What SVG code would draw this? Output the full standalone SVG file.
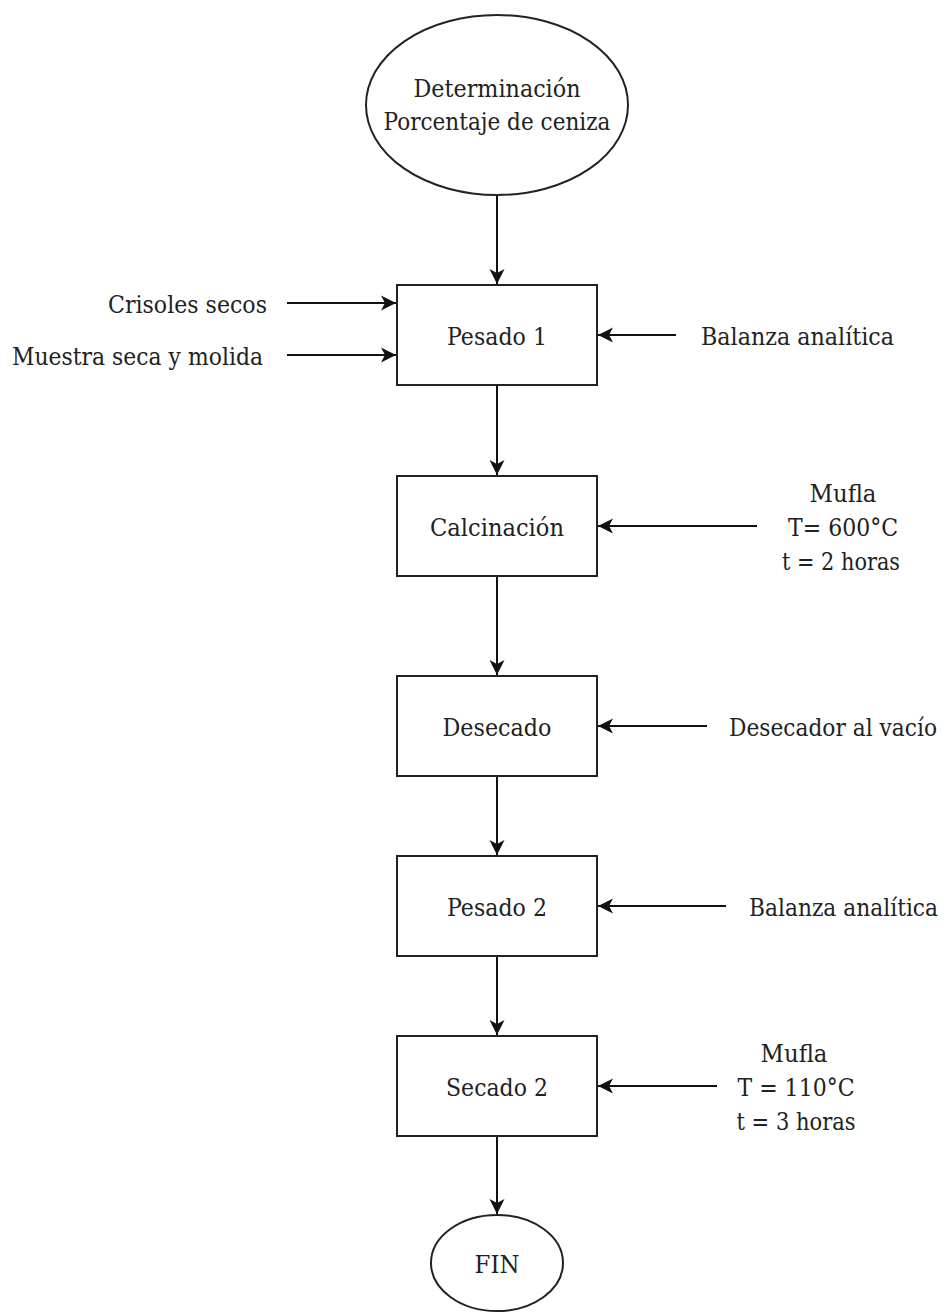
<svg xmlns="http://www.w3.org/2000/svg" width="947" height="1313" viewBox="0 0 947 1313">
  <style>
    .shape { fill: #ffffff; stroke: #222222; stroke-width: 2; }
    .edge { fill: none; stroke: #111111; stroke-width: 2; marker-end: url(#arrow); }
    .lbl { font-family: 'DejaVu Serif', serif; font-size: 25px; fill: #222222; }
    .c { text-anchor: middle; }
    .e { text-anchor: end; }
  </style>
  <defs>
    <marker id="arrow" markerUnits="userSpaceOnUse" markerWidth="18" markerHeight="18" viewBox="-16 -9 18 18" refX="0" refY="0" orient="auto">
      <path d="M0,0 L-15,-7.5 L-11,0 L-15,7.5 Z" fill="#111111"/>
    </marker>
  </defs>

  <!-- flow connectors -->
  <g id="connectors">
    <line class="edge" x1="497" y1="195" x2="497" y2="284"/>
    <line class="edge" x1="497" y1="385" x2="497" y2="475"/>
    <line class="edge" x1="497" y1="576" x2="497" y2="675"/>
    <line class="edge" x1="497" y1="776" x2="497" y2="855"/>
    <line class="edge" x1="497" y1="956" x2="497" y2="1035"/>
    <line class="edge" x1="497" y1="1136" x2="497" y2="1214"/>

    <line class="edge" x1="287" y1="303" x2="396" y2="303"/>
    <line class="edge" x1="287" y1="355" x2="396" y2="355"/>
    <line class="edge" x1="676" y1="335" x2="598" y2="335"/>
    <line class="edge" x1="757" y1="526" x2="598" y2="526"/>
    <line class="edge" x1="707" y1="726" x2="598" y2="726"/>
    <line class="edge" x1="726" y1="906" x2="598" y2="906"/>
    <line class="edge" x1="717" y1="1086" x2="598" y2="1086"/>
  </g>

  <g id="inicio">
    <ellipse class="shape" cx="497" cy="105" rx="131" ry="90"/>
    <text class="lbl c" x="497" y="97" textLength="167" lengthAdjust="spacingAndGlyphs">Determinación</text>
    <text class="lbl c" x="497" y="130" textLength="227" lengthAdjust="spacingAndGlyphs">Porcentaje de ceniza</text>
  </g>

  <g id="pesado1">
    <rect class="shape" x="397" y="285" width="200" height="100"/>
    <text class="lbl c" x="497" y="345" textLength="100" lengthAdjust="spacingAndGlyphs">Pesado 1</text>
  </g>

  <g id="calcinacion">
    <rect class="shape" x="397" y="476" width="200" height="100"/>
    <text class="lbl c" x="497" y="536" textLength="134" lengthAdjust="spacingAndGlyphs">Calcinación</text>
  </g>

  <g id="desecado">
    <rect class="shape" x="397" y="676" width="200" height="100"/>
    <text class="lbl c" x="497" y="736" textLength="109" lengthAdjust="spacingAndGlyphs">Desecado</text>
  </g>

  <g id="pesado2">
    <rect class="shape" x="397" y="856" width="200" height="100"/>
    <text class="lbl c" x="497" y="916" textLength="100" lengthAdjust="spacingAndGlyphs">Pesado 2</text>
  </g>

  <g id="secado2">
    <rect class="shape" x="397" y="1036" width="200" height="100"/>
    <text class="lbl c" x="497" y="1096" textLength="102" lengthAdjust="spacingAndGlyphs">Secado 2</text>
  </g>

  <g id="fin">
    <ellipse class="shape" cx="497" cy="1263" rx="66" ry="48"/>
    <text class="lbl c" x="497" y="1273" textLength="45" lengthAdjust="spacingAndGlyphs">FIN</text>
  </g>

  <g id="entradas">
    <text class="lbl e" x="267" y="313" textLength="159" lengthAdjust="spacingAndGlyphs">Crisoles secos</text>
    <text class="lbl e" x="263" y="365" textLength="251" lengthAdjust="spacingAndGlyphs">Muestra seca y molida</text>
  </g>

  <g id="equipos">
    <text class="lbl" x="701" y="345" textLength="193" lengthAdjust="spacingAndGlyphs">Balanza analítica</text>
    <text class="lbl c" x="843" y="502" textLength="67" lengthAdjust="spacingAndGlyphs">Mufla</text>
    <text class="lbl c" x="843" y="536" textLength="110" lengthAdjust="spacingAndGlyphs">T= 600°C</text>
    <text class="lbl c" x="841" y="570" textLength="118" lengthAdjust="spacingAndGlyphs">t = 2 horas</text>
    <text class="lbl" x="729" y="736" textLength="208" lengthAdjust="spacingAndGlyphs">Desecador al vacío</text>
    <text class="lbl" x="749" y="916" textLength="189" lengthAdjust="spacingAndGlyphs">Balanza analítica</text>
    <text class="lbl c" x="794" y="1062" textLength="67" lengthAdjust="spacingAndGlyphs">Mufla</text>
    <text class="lbl c" x="796" y="1096" textLength="117" lengthAdjust="spacingAndGlyphs">T = 110°C</text>
    <text class="lbl c" x="796" y="1130" textLength="119" lengthAdjust="spacingAndGlyphs">t = 3 horas</text>
  </g>
</svg>
